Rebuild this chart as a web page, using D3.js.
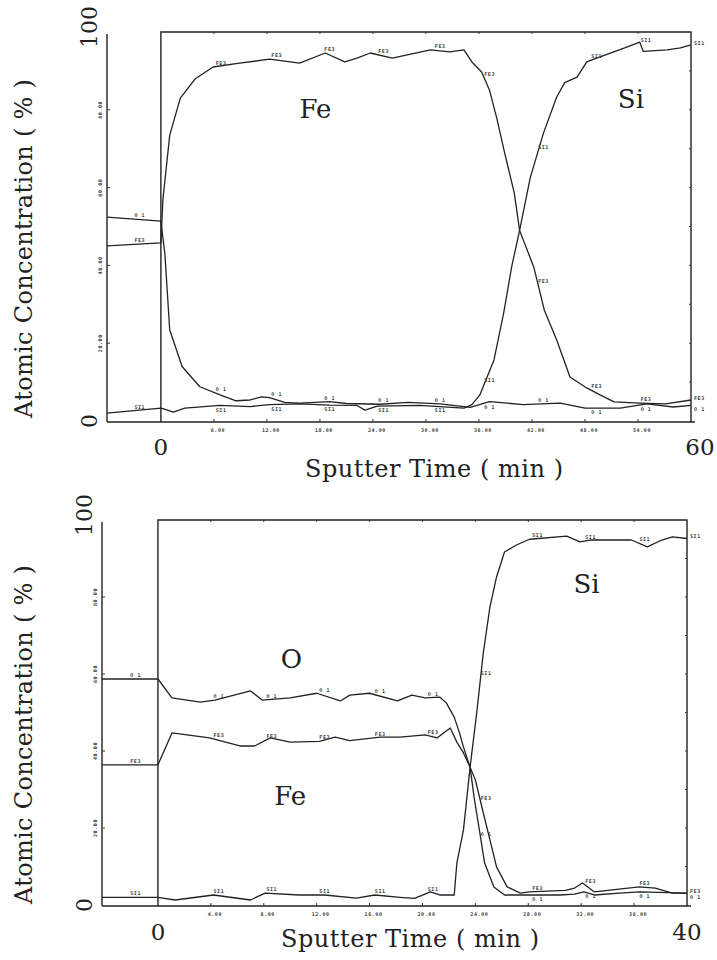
<!DOCTYPE html>
<html>
<head>
<meta charset="utf-8">
<script src="https://cdn.jsdelivr.net/npm/d3@7"></script>
<style>
  body { margin: 0; background: #fff; }
  svg { display: block; }
  .curve { fill: none; stroke: #222; stroke-width: 1.3; stroke-linejoin: round; }
  .frame { fill: none; stroke: #222; stroke-width: 1.4; }
  .tick { stroke: #333; stroke-width: 1; }
  .big { font-family: "DejaVu Serif", serif; fill: #222; }
  .tiny { font-family: "DejaVu Sans Mono", monospace; font-size: 5px; font-weight: bold; fill: #444; letter-spacing: 0.6px; }
</style>
</head>
<body>
<script>
//sputter time (min) / atomic concentration (%)

//upper profile
var topFe = [[-6.1,45],[0,45.8],[0.23,57],[1.0,73.5],[2.2,83],[3.9,88],[5.9,91],[8.9,92],[12.3,93],[15.7,92],[18.6,94.6],[20.8,92.3],[22.2,93.3],[23.7,94.6],[26.2,93.3],[30.5,95.4],[32.7,94.9],[34.3,95.4],[35.2,92.3],[36.3,89.7],[37.2,85],[38.0,78],[38.9,69],[40,58.6],[40.6,49],[42.2,39.6],[43.4,28.5],[44.8,20.8],[46.3,11.3],[48.2,8.5],[49.7,6.7],[51.3,4.9],[54.2,4.6],[57.1,4.4],[60,5.4]];
var topSi = [[-6.1,2],[0,3.3],[0.5,3],[1.4,2.3],[2.7,3.3],[6.7,4],[10.1,3.7],[12.3,4.2],[15.7,4.4],[19.1,4.1],[22.2,4],[23.1,2.8],[24.5,3.8],[29.3,4],[34.3,3.3],[35.2,4.2],[36.1,6.7],[37.7,15.7],[38.8,27.8],[39.7,39.6],[40.6,49],[41.8,62.5],[43.3,74],[44.8,83.3],[45.7,87],[47.1,88.4],[48.2,92.3],[49.7,93.6],[52.5,95.9],[54.2,97.4],[54.6,95],[57.3,95.4],[58.8,95.9],[60,96.7]];
var topO = [[-6.1,52.4],[0,51.4],[0.45,43],[1.0,23.4],[2.4,14],[4.4,8.8],[6.7,6.7],[8.5,5.2],[10.1,5.4],[11.4,6.2],[12.3,6],[14,4.8],[15.7,4.6],[19.1,5],[21,4.5],[24.8,4.3],[28,4.8],[31.6,4.4],[35,3.5],[37.2,5],[41,4.2],[45.2,4.6],[48,3.3],[52,3.3],[55,4.4],[58,3.6],[60,4]];

//lower profile
var botFe = [[-4.23,36.4],[0,36.4],[1.06,44.7],[3.9,43.4],[6.2,41.3],[7.3,41.3],[8.5,43.4],[10,42.3],[12.2,42.5],[13.4,43.6],[14.5,42.7],[16.8,43.6],[18.3,43.6],[20.2,44.2],[21.1,43.4],[22.1,46],[22.6,42.3],[23.1,39.5],[23.6,35.8],[24,32.5],[24.6,23.9],[25.1,16.9],[25.6,9.9],[26.4,4.7],[27.4,3.1],[28.1,3.4],[30.8,3.8],[31.5,4.4],[32.1,5.7],[33,3.4],[36.4,4.7],[37.6,4.4],[38.9,3.1],[40,3.1]];
var botO = [[-4.23,58.7],[0,58.7],[1.06,53.8],[3.2,52.7],[4.3,53.2],[7.0,55.6],[7.9,53.2],[10,53.8],[12,55],[13.8,53],[14.5,54.5],[16,55],[18.1,53],[19.2,54.5],[20.2,53.8],[21.3,54],[21.8,52.5],[22.4,48.8],[22.8,44.7],[23.1,41],[23.6,35.8],[23.9,28],[24.3,19.5],[24.7,10.9],[25.4,4.7],[26.2,2.6],[30.4,2.6],[31.5,2.8],[32.2,3.4],[33,2.6],[34.9,3.1],[36.4,3.4],[40,3.1]];
var botSi = [[-4.23,2],[0,2],[1.3,1.3],[4.2,2.6],[7,1.3],[8.1,3.1],[10.7,2.6],[12.6,2.6],[15,1.8],[16.4,2.6],[18.3,2],[19.4,1.7],[20.6,3.4],[21.3,2.6],[22.4,2.6],[22.6,10.9],[23.1,19.5],[23.6,35.8],[24.1,49.9],[24.6,65.5],[25.1,77.4],[25.6,85.2],[26.2,91.7],[27.1,93.5],[28.1,95],[30.9,95.8],[31.9,94.3],[32.7,94.8],[35.8,94.8],[37,93],[38.1,94.8],[38.9,95.6],[40,95.2]];

//instrument's own small tick labels and where it printed curve tags
var topMinor = [6,12,18,24,30,36,42,48,54];
var botMinor = [4,8,12,16,20,24,28,32,36];
var yMinor = [20,40,60,80];
var topMarks = [-3,6.2,12.5,18.5,24.6,31,36.6,42.7,48.7,54.3];
var botMarks = [-2.1,4.2,8.2,12.2,16.4,20.4,24.4,28.3,32.3,36.4];

var width = 717, height = 960;

var svg = d3.select("body")
    .append("svg")
    .attr("width", width)
    .attr("height", height);

var panels = [
    {
        tMin: -6.1, tMax: 60, px: [107, 691], py: [421, 32],
        series: [[topFe, "FE3"], [topSi, "SI1"], [topO, "O 1"]],
        minor: topMinor, marks: topMarks,
        names: [["Fe", 17.5, 77.9], ["Si", 53.2, 80.5]],
        endDx: 9, tickDy: 34, titleX: 434, titleDy: 56
    },
    {
        tMin: -4.23, tMax: 40, px: [102, 687], py: [905, 520],
        series: [[botFe, "FE3"], [botSi, "SI1"], [botO, "O 1"]],
        minor: botMinor, marks: botMarks,
        names: [["O", 10.1, 61.6], ["Fe", 10, 26], ["Si", 32.4, 81]],
        endDx: 0, tickDy: 35, titleX: 410, titleDy: 42
    }
];

panels.forEach(drawPanel);

//value of a curve at time t (linear between read points)
function valueAt(data, t){
    for (var i = 0; i < data.length - 1; i++){
        if (t >= data[i][0] && t <= data[i+1][0]){
            var k = (t - data[i][0]) / (data[i+1][0] - data[i][0]);
            return data[i][1] + k * (data[i+1][1] - data[i][1]);
        }
    }
    return data[data.length-1][1];
}

function drawPanel(p){
    var x = d3.scaleLinear().domain([p.tMin, p.tMax]).range(p.px);
    var y = d3.scaleLinear().domain([0, 100]).range(p.py);
    var g = svg.append("g");

    //axis lines and frame
    g.append("line").attr("class", "frame")
        .attr("x1", x(p.tMin)).attr("x2", x(p.tMin))
        .attr("y1", y(100) + 2).attr("y2", y(0) + 1);
    g.append("line").attr("class", "frame")
        .attr("x1", x(p.tMin)).attr("x2", x(p.tMax) + 4)
        .attr("y1", y(0) + 1).attr("y2", y(0) + 1);
    g.append("path").attr("class", "frame")
        .attr("d", "M" + x(0) + "," + (y(0) + 1) + "V" + y(100) + "H" + x(p.tMax) + "V" + (y(0) + 1));

    //small ticks
    g.selectAll(".xt").data(p.minor).enter().append("line")
        .attr("class", "tick")
        .attr("x1", function(d){ return x(d); }).attr("x2", function(d){ return x(d); })
        .attr("y1", y(0) + 1).attr("y2", y(0) - 2);
    g.selectAll(".tt").data(p.minor).enter().append("line")
        .attr("class", "tick")
        .attr("x1", function(d){ return x(d); }).attr("x2", function(d){ return x(d); })
        .attr("y1", y(100)).attr("y2", y(100) + 2);
    g.selectAll(".yt").data(yMinor).enter().append("line")
        .attr("class", "tick")
        .attr("x1", x(p.tMin)).attr("x2", x(p.tMin) + 3)
        .attr("y1", function(d){ return y(d); }).attr("y2", function(d){ return y(d); });
    g.selectAll(".rt").data(d3.range(10, 100, 10)).enter().append("line")
        .attr("class", "tick")
        .attr("x1", x(p.tMax)).attr("x2", x(p.tMax) - 2)
        .attr("y1", function(d){ return y(d); }).attr("y2", function(d){ return y(d); });

    //tiny tick labels
    g.selectAll(".xl").data(p.minor).enter().append("text")
        .attr("class", "tiny")
        .attr("x", function(d){ return x(d) + 4; })
        .attr("y", y(0) + 11)
        .attr("text-anchor", "middle")
        .text(function(d){ return d.toFixed(2); });
    g.selectAll(".yl").data(yMinor).enter().append("text")
        .attr("class", "tiny")
        .attr("transform", function(d){ return "translate(" + (x(p.tMin) - 5) + "," + y(d) + ") rotate(-90)"; })
        .attr("text-anchor", "middle")
        .text(function(d){ return d.toFixed(2); });

    //curves
    var line = d3.line()
        .x(function(d){ return x(d[0]); })
        .y(function(d){ return y(d[1]); });

    p.series.forEach(function(s, k){
        g.append("path").attr("class", "curve").attr("d", line(s[0]));
    });

    //curve tags printed along the trace; when two traces run close the lower one
    //gets its tag under the line so the tags do not sit on top of each other
    p.series.forEach(function(s, k){
        function below(t){
            var v = valueAt(s[0], t);
            return p.series.some(function(o, j){
                if (j === k) return false;
                var w = valueAt(o[0], t);
                return Math.abs(w - v) < 6 && (w > v || (w === v && j < k));
            });
        }
        g.selectAll(null).data(p.marks).enter().append("text")
            .attr("class", "tiny")
            .attr("x", function(t){ return x(t); })
            .attr("y", function(t){ return y(valueAt(s[0], t)) + (below(t) ? 6 : -2); })
            .text(s[1]);
        var last = s[0][s[0].length-1];
        g.append("text").attr("class", "tiny")
            .attr("x", x(last[0]) + 3)
            .attr("y", y(last[1]) + (below(last[0]) ? 6 : 0))
            .text(s[1]);
    });

    //element names
    g.selectAll(".nm").data(p.names).enter().append("text")
        .attr("class", "big")
        .attr("x", function(d){ return x(d[1]); })
        .attr("y", function(d){ return y(d[2]); })
        .attr("text-anchor", "middle")
        .style("font-size", "26px")
        .text(function(d){ return d[0]; });

    //axis numbers
    g.append("text").attr("class", "big")
        .attr("x", x(0)).attr("y", y(0) + p.tickDy)
        .attr("text-anchor", "middle").style("font-size", "23px")
        .text("0");
    g.append("text").attr("class", "big")
        .attr("x", x(p.tMax) + p.endDx).attr("y", y(0) + p.tickDy)
        .attr("text-anchor", "middle").style("font-size", "23px")
        .text(p.tMax);
    g.append("text").attr("class", "big")
        .attr("transform", "translate(" + (x(p.tMin) - 10) + "," + (y(100) - 5) + ") rotate(-90)")
        .attr("text-anchor", "middle").style("font-size", "22px")
        .text("100");
    g.append("text").attr("class", "big")
        .attr("transform", "translate(" + (x(p.tMin) - 10) + "," + y(0) + ") rotate(-90)")
        .attr("text-anchor", "middle").style("font-size", "22px")
        .text("0");

    //axis titles
    g.append("text").attr("class", "big")
        .attr("x", p.titleX).attr("y", y(0) + p.titleDy)
        .attr("text-anchor", "middle").style("font-size", "24px")
        .attr("textLength", 258)
        .text("Sputter Time ( min )");
    g.append("text").attr("class", "big")
        .attr("transform", "translate(32," + ((y(0) + y(100)) / 2 + 22) + ") rotate(-90)")
        .attr("text-anchor", "middle").style("font-size", "24px")
        .attr("textLength", 339)
        .text("Atomic Concentration ( % )");
}
</script>
</body>
</html>
